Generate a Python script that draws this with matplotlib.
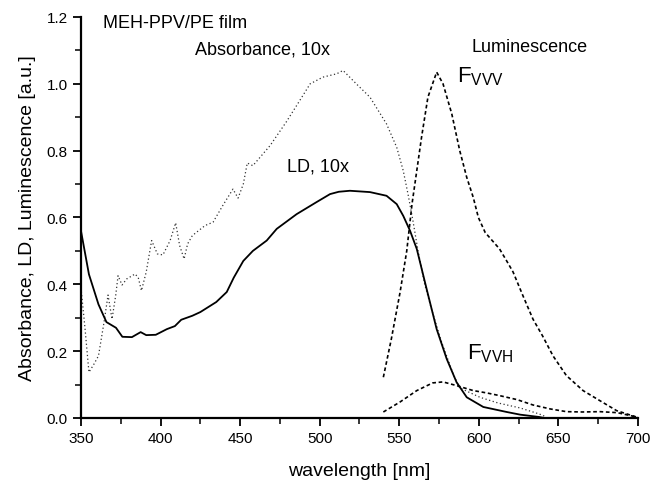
import numpy as np
import matplotlib
matplotlib.use("Agg")
import matplotlib.pyplot as plt
from matplotlib.ticker import MultipleLocator, FormatStrFormatter

plt.rcParams['font.family'] = ['Liberation Sans', 'DejaVu Sans']
plt.rcParams['mathtext.default'] = 'regular'

# absorbance spectrum (x10)
abs_wl = [350, 352.5, 355, 358, 361, 364.5, 367, 369.5, 371.8, 373.3, 375.8,
          378.7, 384, 386, 388, 391, 394.4, 398, 401.5, 406, 409.5, 412,
          414.8, 417, 420, 428, 433, 439, 445.5, 448.7, 452, 454.5, 458,
          468.8, 479, 485.5, 494, 502, 510.7, 514.7, 523, 531.6, 542, 548.4,
          552.5, 555.5, 558.6, 561.8, 566, 570, 576.6, 584, 588, 600.7, 612,
          626, 638, 642]
abs_val = [0.39, 0.27, 0.137, 0.16, 0.186, 0.287, 0.368, 0.296, 0.366, 0.426,
           0.398, 0.416, 0.431, 0.42, 0.381, 0.437, 0.531, 0.491, 0.488,
           0.531, 0.584, 0.516, 0.476, 0.521, 0.546, 0.576, 0.586, 0.635,
           0.685, 0.658, 0.70, 0.763, 0.755, 0.815, 0.886, 0.935, 1.0, 1.02,
           1.03, 1.04, 1.0, 0.96, 0.88, 0.81, 0.74, 0.67, 0.59, 0.50, 0.40,
           0.33, 0.227, 0.13, 0.09, 0.062, 0.045, 0.03, 0.012, 0.004]

# linear dichroism (x10)
ld_wl = [350, 355, 361, 366, 372, 376, 382, 387.5, 391, 397, 404, 409, 413,
         420, 425, 435, 441.6, 446, 452, 458, 466.7, 473, 485.5, 498, 506.5,
         512, 519, 531.6, 542, 548.4, 552.5, 556.8, 561, 567.2, 573.5, 579.8,
         586, 592.4, 602.8, 617.5, 626, 638, 641]
ld_val = [0.56, 0.43, 0.34, 0.287, 0.27, 0.243, 0.242, 0.257, 0.248, 0.249,
          0.266, 0.275, 0.294, 0.306, 0.317, 0.347, 0.377, 0.42, 0.47, 0.50,
          0.531, 0.566, 0.61, 0.646, 0.670, 0.677, 0.68, 0.676, 0.665, 0.64,
          0.605, 0.56, 0.506, 0.386, 0.266, 0.177, 0.107, 0.062, 0.033,
          0.018, 0.01, 0.003, 0.0]

# polarized luminescence, F_VVV
fvv_wl = [540, 545, 550.5, 554.7, 558, 561, 564, 568, 573.5, 577.5, 583, 588,
          592.4, 596.5, 599.7, 604, 613, 617.5, 621.5, 627.7, 634, 640, 646.6,
          655, 665.5, 676, 686.6, 699, 700]
fvv_val = [0.122, 0.236, 0.376, 0.50, 0.64, 0.74, 0.84, 0.96, 1.035, 1.0,
           0.91, 0.80, 0.72, 0.66, 0.60, 0.555, 0.506, 0.47, 0.437, 0.366,
           0.296, 0.246, 0.186, 0.127, 0.082, 0.052, 0.022, 0.003, 0.0]

# polarized luminescence, F_VVH
fvh_wl = [540, 550.5, 561, 571, 577.5, 586, 596.5, 605, 613, 624, 634, 645,
          655, 665, 676, 687, 699, 700]
fvh_val = [0.018, 0.048, 0.082, 0.105, 0.108, 0.097, 0.082, 0.075, 0.067,
           0.055, 0.039, 0.027, 0.019, 0.018, 0.019, 0.016, 0.003, 0.0]

fig = plt.figure(figsize=(6.52, 4.81), dpi=100)
ax = fig.add_axes([0.1242, 0.1289, 0.8543, 0.8337])

ax.plot(abs_wl, abs_val, color='#333333', lw=0.9, linestyle=(0, (1, 2)))
ax.plot(ld_wl, ld_val, color='black', lw=1.3)
ax.plot(fvv_wl, fvv_val, color='black', lw=1.2, linestyle=(0, (2.2, 1.6)))
ax.plot(fvh_wl, fvh_val, color='black', lw=1.2, linestyle=(0, (2.2, 1.6)))

ax.set_xlim(350, 700)
ax.set_ylim(0, 1.2)
ax.xaxis.set_major_locator(MultipleLocator(50))
ax.xaxis.set_minor_locator(MultipleLocator(25))
ax.yaxis.set_major_locator(MultipleLocator(0.2))
ax.yaxis.set_minor_locator(MultipleLocator(0.1))
ax.yaxis.set_major_formatter(FormatStrFormatter('%.1f'))

for side in ['top', 'right']:
    ax.spines[side].set_visible(False)
for side in ['left', 'bottom']:
    ax.spines[side].set_linewidth(1.6)
ax.tick_params(which='major', direction='out', length=6, width=1.3,
               labelsize=11)
ax.tick_params(which='minor', direction='out', length=4, width=1.1)

ax.set_xlabel('wavelength [nm]', fontsize=14, labelpad=12)
ax.set_ylabel('Absorbance, LD, Luminescence [a.u.]', fontsize=14, labelpad=8)

ax.text(363.8, 1.185, 'MEH-PPV/PE film', fontsize=13, va='center')
ax.text(421.6, 1.104, 'Absorbance, 10x', fontsize=13, va='center')
ax.text(479.4, 0.754, 'LD, 10x', fontsize=13, va='center')
ax.text(595.7, 1.113, 'Luminescence', fontsize=13, va='center')
ax.text(586.3, 1.006, r'F$_{VVV}$', fontsize=16, va='baseline')
ax.text(592.5, 0.177, r'F$_{VVH}$', fontsize=16, va='baseline')

fig.savefig('out.png', dpi=100)
